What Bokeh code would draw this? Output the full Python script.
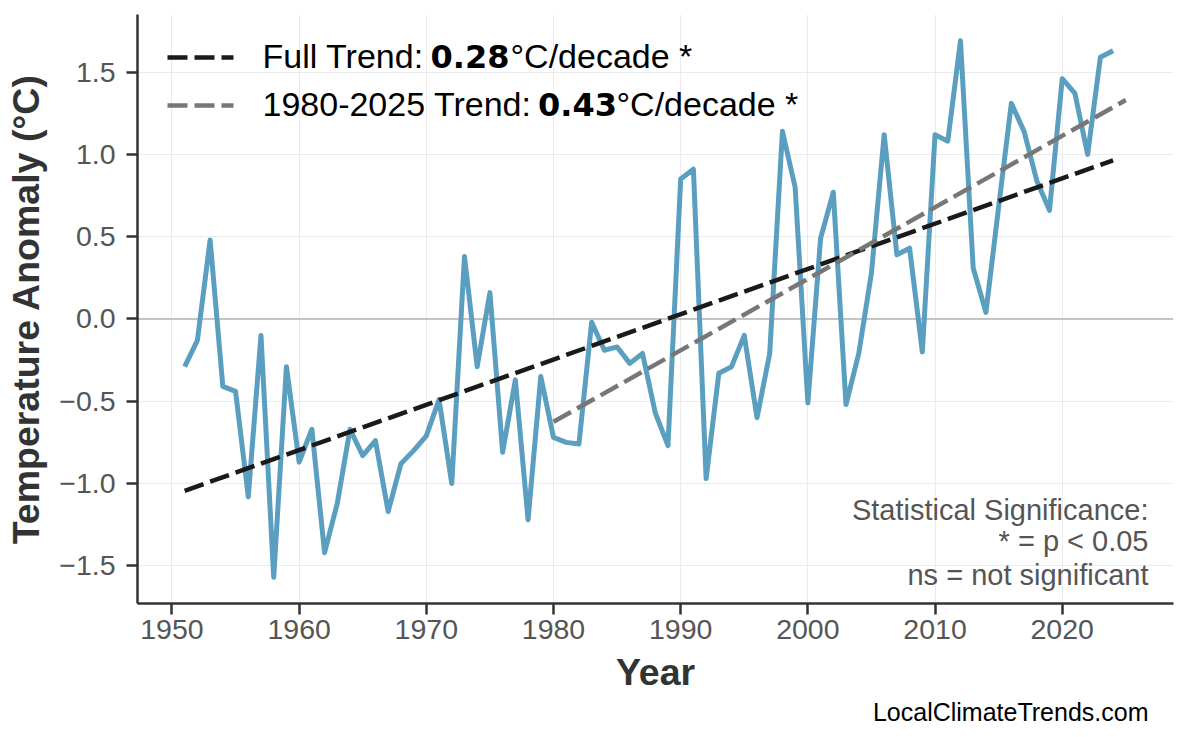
from bokeh.plotting import figure
from bokeh.models import (Range1d, FixedTicker, CustomJSTickFormatter, Span, Label,
                          Arrow, ColumnDataSource, Title)
from bokeh.embed import file_html
from bokeh.resources import INLINE

# ---------------- data ----------------
years = list(range(1951, 2025))
anomaly = [
    -0.29, -0.13, 0.48, -0.41, -0.44, -1.08, -0.10, -1.57, -0.29, -0.87,   # 1951-1960
    -0.67, -1.42, -1.12, -0.67, -0.83, -0.74, -1.17, -0.88, -0.80, -0.71,   # 1961-1970
    -0.49, -1.00, 0.38, -0.29, 0.16, -0.81, -0.37, -1.22, -0.35, -0.72,     # 1971-1980
    -0.75, -0.76, -0.02, -0.19, -0.17, -0.27, -0.21, -0.57, -0.77, 0.85,    # 1981-1990
    0.91, -0.97, -0.33, -0.29, -0.10, -0.60, -0.21, 1.14, 0.80, -0.51,      # 1991-2000
    0.49, 0.77, -0.52, -0.21, 0.28, 1.12, 0.39, 0.43, -0.20, 1.12,          # 2001-2010
    1.08, 1.69, 0.31, 0.04, 0.68, 1.31, 1.14, 0.84, 0.66, 1.46,             # 2011-2020
    1.37, 1.00, 1.59, 1.63,                                                 # 2021-2024
]
full_trend_years = [1951, 2024]
full_trend_vals = [-1.044, 0.964]
recent_trend_years = [1980, 2025]
recent_trend_vals = [-0.625, 1.33]

year_ticks = [1950, 1960, 1970, 1980, 1990, 2000, 2010, 2020]
anom_ticks = [-1.5, -1.0, -0.5, 0.0, 0.5, 1.0, 1.5]

legend_full = ("Full Trend:", "0.28", "°C/decade *")
legend_recent = ("1980-2025 Trend:", "0.43", "°C/decade *")
signif_lines = ["Statistical Significance:", "* = p < 0.05", "ns = not significant"]
caption = "LocalClimateTrends.com"

# ---------------- styling ----------------
FONT = "Liberation Sans"
BOLD_FONT = "DejaVu Sans"
BLUE = "#5a9fc0"
BLACK_TREND = "#1a1a1a"
GRAY_TREND = "#777777"

p = figure(frame_width=1036, frame_height=589,
           min_border_left=137, min_border_right=10, min_border_top=14, min_border_bottom=110,
           x_range=Range1d(1947.29, 2028.75), y_range=Range1d(-1.729, 1.850),
           output_backend="svg", toolbar_location=None,
           background_fill_color="white", border_fill_color="white")
p.outline_line_color = None

p.xaxis.ticker = FixedTicker(ticks=year_ticks)
p.yaxis.ticker = FixedTicker(ticks=anom_ticks)
p.xgrid.ticker = FixedTicker(ticks=year_ticks)
p.ygrid.ticker = FixedTicker(ticks=anom_ticks)
p.grid.grid_line_color = "#ebebeb"
p.grid.grid_line_width = 1

p.xaxis.formatter = CustomJSTickFormatter(code="return tick.toFixed(0);")
p.yaxis.formatter = CustomJSTickFormatter(
    code="return (tick < 0 ? '\\u2212' : '') + Math.abs(tick).toFixed(1);")

p.xaxis.axis_label = "Year"
p.yaxis.axis_label = "Temperature Anomaly (°C)"
for ax in (p.xaxis[0], p.yaxis[0]):
    ax.axis_line_color = "#333333"
    ax.axis_line_width = 2.5
    ax.major_tick_line_color = "#333333"
    ax.major_tick_line_width = 2.5
    ax.major_tick_out = 11
    ax.major_tick_in = 0
    ax.minor_tick_line_color = None
    ax.major_label_text_font = FONT
    ax.major_label_text_font_size = "28.5px"
    ax.major_label_text_color = "#555555"
    ax.axis_label_text_font = FONT
    ax.axis_label_text_font_size = "37.5px"
    ax.axis_label_text_font_style = "bold"
    ax.axis_label_text_color = "#333333"
p.xaxis.major_label_standoff = 5
p.yaxis.major_label_standoff = 11
p.xaxis.axis_label_standoff = 9
p.yaxis.axis_label_standoff = 9

p.add_layout(Span(location=0, dimension="width", line_color="#b3b3b3",
                  line_width=1.5, level="underlay"))

src = ColumnDataSource(dict(year=years, anomaly=anomaly))
p.line("year", "anomaly", source=src, line_color=BLUE, line_width=5, line_join="round")
p.line(full_trend_years, full_trend_vals, line_color=BLACK_TREND, line_width=4.5,
       line_dash="20 7")
p.line(recent_trend_years, recent_trend_vals, line_color=GRAY_TREND, line_width=4.5,
       line_dash="20 7")

# ---------------- annotations (screen px relative to frame bottom-left) ----------------
FL, FB = 137.0, 603.0  # page px of frame left / bottom


def sx(px):
    return px - FL


def sy(py, fs=0.0):
    # compensate the label baseline offset observed in rendering
    return FB - py + 0.42 * fs


# legend samples
for yy, col in ((57, BLACK_TREND), (105, GRAY_TREND)):
    p.add_layout(Arrow(x_start=sx(167), y_start=FB - yy, x_end=sx(233), y_end=FB - yy,
                       start_units="screen", end_units="screen", end=None, start=None,
                       line_color=col, line_width=4.5, line_dash="20 7"))

LEG_FS = 34
BOLD_FS = 32
rows = ((legend_full, 69.5, (262, 430, 510)),
        (legend_recent, 117.5, (262, 537.5, 616)))
for texts, base, xs in rows:
    specs = ((FONT, LEG_FS, "normal"), (BOLD_FONT, BOLD_FS, "bold"), (FONT, LEG_FS, "normal"))
    for t, x0, (fnt, fs, st) in zip(texts, xs, specs):
        p.add_layout(Label(x=sx(x0), y=sy(base, fs), x_units="screen", y_units="screen",
                           text=t, text_font=fnt, text_font_size=f"{fs}px",
                           text_font_style=st, text_color="#000000",
                           text_align="left", text_baseline="alphabetic"))

SIG_FS = 29
for t, base in zip(signif_lines, (521.7, 553.0, 586.7)):
    p.add_layout(Label(x=sx(1148), y=sy(base, SIG_FS), x_units="screen", y_units="screen",
                       text=t, text_font=FONT, text_font_size=f"{SIG_FS}px",
                       text_color="#555555", text_align="right",
                       text_baseline="alphabetic"))

p.add_layout(Title(text=caption, align="right", offset=25, standoff=0,
                   text_font=FONT, text_font_size="25px", text_font_style="normal",
                   text_color="#000000"), "below")

open("out.html", "w").write(file_html(p, INLINE))
